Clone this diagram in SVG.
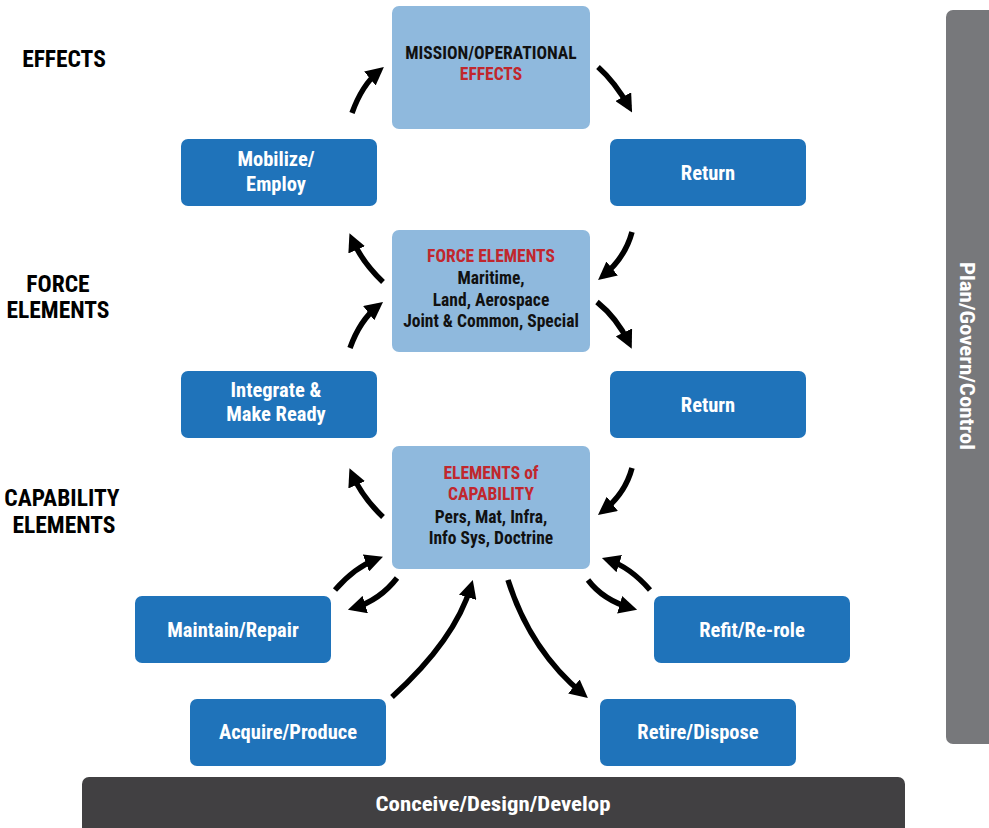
<svg xmlns="http://www.w3.org/2000/svg" width="989" height="828" viewBox="0 0 989 828">
<style>
text{font-family:"Liberation Sans Narrow","Roboto Condensed","DejaVu Sans Condensed",Roboto,sans-serif;font-weight:bold;font-stretch:condensed;text-anchor:middle}
.lb{fill:#8fb9dd}
.db{fill:#1f73ba}
.w{fill:#fff;font-size:20.5px}
.k{fill:#111;font-size:17.5px}
.r{fill:#c1272d;font-size:17.5px}
.side{fill:#000;font-size:23.5px}
.big{fill:#fff;font-size:21px}
.arr{fill:none;stroke:#000;stroke-width:5.5;marker-end:url(#ah)}
</style>
<defs>
<marker id="ah" viewBox="0 0 10 10" refX="6.5" refY="5" markerWidth="3.3" markerHeight="3.3" orient="auto">
<path d="M0,0 L10,5 L0,10 z" fill="#000"/>
</marker>
</defs>
<g id="side-labels">
<text class="side" x="64" y="67">EFFECTS</text>
<text class="side" x="58" y="292">FORCE</text>
<text class="side" x="58" y="318">ELEMENTS</text>
<text class="side" x="62" y="506">CAPABILITY</text>
<text class="side" x="64" y="533">ELEMENTS</text>
</g>
<g id="mission">
<rect class="lb" x="392" y="6" width="198" height="123" rx="7"/>
<text class="k" x="491" y="59">MISSION/OPERATIONAL</text>
<text class="r" x="491" y="80">EFFECTS</text>
</g>
<g id="mobilize">
<rect class="db" x="181" y="139" width="196" height="67" rx="7"/>
<text class="w" x="276" y="166">Mobilize/</text>
<text class="w" x="276" y="191">Employ</text>
</g>
<g id="return1">
<rect class="db" x="610" y="139" width="196" height="67" rx="7"/>
<text class="w" x="708" y="180">Return</text>
</g>
<g id="force">
<rect class="lb" x="392" y="230" width="198" height="122" rx="7"/>
<text class="r" x="491" y="262">FORCE ELEMENTS</text>
<text class="k" x="491" y="284">Maritime,</text>
<text class="k" x="491" y="306">Land, Aerospace</text>
<text class="k" x="491" y="327">Joint &amp; Common, Special</text>
</g>
<g id="integrate">
<rect class="db" x="181" y="371" width="196" height="67" rx="7"/>
<text class="w" x="276" y="397">Integrate &amp;</text>
<text class="w" x="276" y="421">Make Ready</text>
</g>
<g id="return2">
<rect class="db" x="610" y="371" width="196" height="67" rx="7"/>
<text class="w" x="708" y="412">Return</text>
</g>
<g id="capability">
<rect class="lb" x="392" y="446" width="198" height="123" rx="7"/>
<text class="r" x="491" y="479">ELEMENTS of</text>
<text class="r" x="491" y="500">CAPABILITY</text>
<text class="k" x="491" y="523">Pers, Mat, Infra,</text>
<text class="k" x="491" y="544">Info Sys, Doctrine</text>
</g>
<g id="maintain">
<rect class="db" x="135" y="596" width="196" height="67" rx="7"/>
<text class="w" x="233" y="637">Maintain/Repair</text>
</g>
<g id="refit">
<rect class="db" x="654" y="596" width="196" height="67" rx="7"/>
<text class="w" x="752" y="637">Refit/Re-role</text>
</g>
<g id="acquire">
<rect class="db" x="190" y="699" width="196" height="67" rx="7"/>
<text class="w" x="288" y="739">Acquire/Produce</text>
</g>
<g id="retire">
<rect class="db" x="600" y="699" width="196" height="67" rx="7"/>
<text class="w" x="698" y="739">Retire/Dispose</text>
</g>
<g id="conceive">
<rect x="82" y="777" width="823" height="60" rx="7" fill="#414042"/>
<text class="big" x="493" y="811" textLength="235" lengthAdjust="spacingAndGlyphs">Conceive/Design/Develop</text>
</g>
<g id="plan">
<rect x="946" y="10" width="60" height="734" rx="7" fill="#77787b"/>
<text class="big" transform="translate(960,356) rotate(90)" x="0" y="0" textLength="188" lengthAdjust="spacingAndGlyphs">Plan/Govern/Control</text>
</g>
<g id="connectors">
<path class="arr" d="M352,113 Q362,85 379,71"/>
<path class="arr" d="M598,67 Q615,82 629,107"/>
<path class="arr" d="M632,232 Q625,258 603,276"/>
<path class="arr" d="M383,282 Q362,262 352,239"/>
<path class="arr" d="M350,348 Q360,320 378,306"/>
<path class="arr" d="M597,302 Q617,318 629,343"/>
<path class="arr" d="M632,468 Q625,494 603,511"/>
<path class="arr" d="M383,517 Q362,497 352,474"/>
<path class="arr" d="M335,590 Q355,567 377,559"/>
<path class="arr" d="M397,578 Q380,600 354,608"/>
<path class="arr" d="M588,580 Q603,600 631,608"/>
<path class="arr" d="M650,590 Q630,567 608,560"/>
<path class="arr" d="M392,697 Q455,640 471,586"/>
<path class="arr" d="M508,580 Q530,650 583,694"/>
</g>
</svg>
